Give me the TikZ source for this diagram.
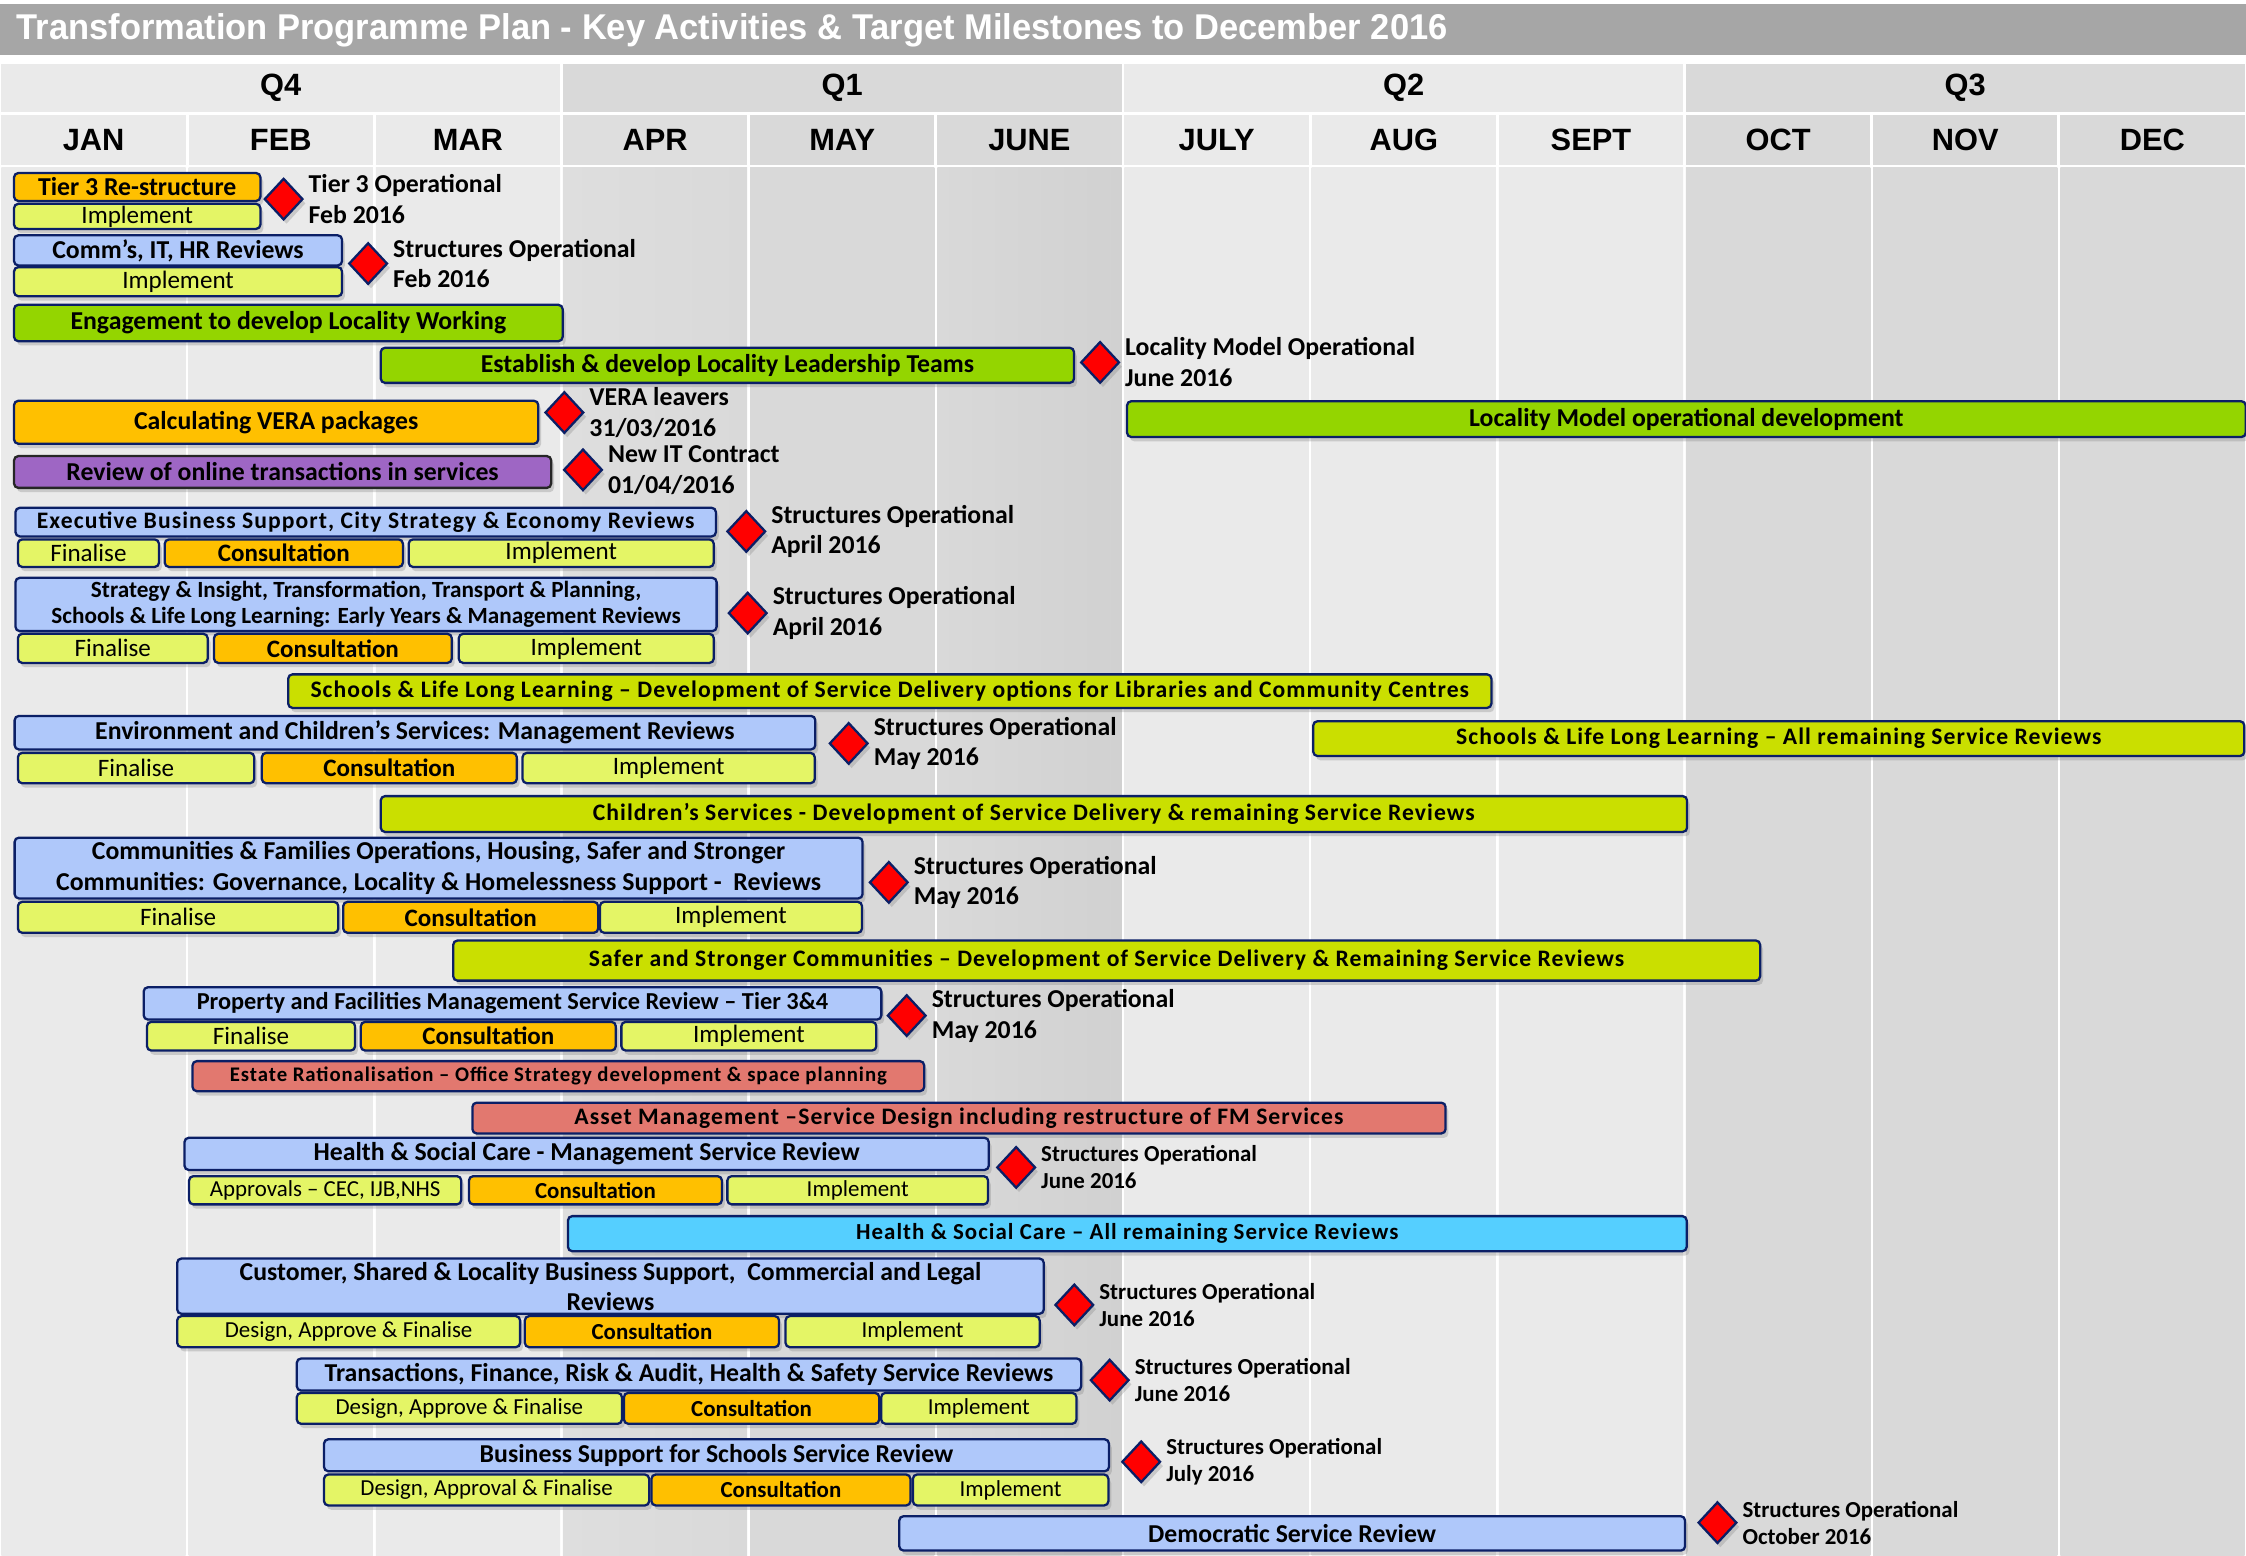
\documentclass[tikz,border=0pt]{standalone}
\usepackage{graphicx}
\usepackage{fontspec}
\setmainfont{Carlito}
\newfontfamily\headfont{Liberation Sans}
\usetikzlibrary{shapes.geometric,shadows,positioning}

\definecolor{navy}{HTML}{0B1F66}
\definecolor{barorange}{HTML}{FFC000}
\definecolor{barlime}{HTML}{E4F566}
\definecolor{barblue}{HTML}{AFC8FA}
\definecolor{bargreen}{HTML}{94D500}
\definecolor{barolive}{HTML}{CADF00}
\definecolor{barpurple}{HTML}{9E66C4}
\definecolor{barsalmon}{HTML}{E2786F}
\definecolor{barcyan}{HTML}{55CFFF}
\definecolor{qlight}{HTML}{EAEAEA}
\definecolor{qmid}{HTML}{DEDEDE}
\definecolor{qdark}{HTML}{D9D9D9}
\definecolor{qdarker}{HTML}{D1D1D1}
\definecolor{titlegrey}{HTML}{A6A6A6}

\begin{document}
\begin{tikzpicture}[x=1pt, y=-1pt]
    \tikzset{
        bar/.style = {rectangle, rounded corners=3pt, draw=navy, line width=1.6pt,
                      inner sep=0pt, anchor=north west, align=center,
                      drop shadow={shadow xshift=2pt, shadow yshift=-3pt, opacity=0.3}},
        fb/.style 2 args = {font=\bfseries\fontsize{#1}{#2}\selectfont},
        fr/.style 2 args = {font=\fontsize{#1}{#2}\selectfont},
        spaced/.style = {font=\bfseries\fontsize{#1}{19}\selectfont\addfontfeature{LetterSpace=4.5}},
        task/.style = {bar, fb={18}{21}},
        phase/.style = {bar, fill=barlime, fr={17.5}{21}},
        consult/.style = {bar, fill=barorange, fb={17.5}{21}},
        mstone/.style = {diamond, draw=navy, line width=1.6pt, fill=red, inner sep=0pt,
                         minimum width=27, minimum height=29,
                         drop shadow={shadow xshift=2pt, shadow yshift=-3pt, opacity=0.3}},
        mslabel/.style = {inner sep=0pt, align=left, fb={18}{21.5}},
        hdr/.style = {font=\headfont\bfseries\fontsize{21.5}{24}\selectfont}
    }
    \useasboundingbox (0,0) rectangle (1568,1086);

    % title band
    \fill[titlegrey] (0,3) rectangle (1568,38.5);
    \node[anchor=west, inner sep=0pt, text=white, font=\headfont\bfseries\fontsize{25}{28}\selectfont]
        (title) at (11.5,21) {\scalebox{0.963}[1]{Transformation Programme Plan - Key Activities \& Target Milestones to December 2016}};

    % quarters
    \foreach \q/\c [count=\i from 0] in {Q4/qlight, Q1/qdark, Q2/qlight, Q3/qdark} {
        \fill[\c] ({\i*392+1}, 44.5) rectangle ({(\i+1)*392-1}, 78);
        \node[hdr] (q\i) at ({(\i+0.5)*392}, 61) {\q};
    }

    % months and their columns
    \foreach \m/\ca/\cb [count=\i from 0] in {JAN/qlight/qlight, FEB/qlight/qlight, MAR/qlight/qlight,
                                              APR/qmid/qdark, MAY/qdark/qdark, JUNE/qdark/qdarker,
                                              JULY/qlight/qlight, AUG/qlight/qlight, SEPT/qlight/qlight,
                                              OCT/qdark/qdark, NOV/qdark/qdark, DEC/qdark/qdark} {
        \fill[\ca] ({\i*130.667+1}, 80) rectangle ({(\i+1)*130.667-1}, 115);
        \shade[left color=\ca, right color=\cb] ({\i*130.667+1}, 117) rectangle ({(\i+1)*130.667-1}, 1086);
        \node[hdr] (mon\i) at ({(\i+0.5)*130.667}, 97.5) {\m};
    }

    % tier 3
    \node[task, fill=barorange, minimum width=172, minimum height=19.5] (t3r) at (9,120) {Tier 3 Re-structure};
    \node[phase, minimum width=172, minimum height=17.5] (t3i) at (9,141.5) {Implement};
    \node[mstone] (m1) at (198,139) {};
    \node[mslabel, right=3pt of m1] (l1) {Tier 3 Operational\\Feb 2016};

    % comms, IT, HR
    \node[task, fill=barblue, minimum width=229, minimum height=21] (cir) at (9,163.5) {Comm’s, IT, HR Reviews};
    \node[phase, minimum width=229, minimum height=20.3] (cii) at (9,185.7) {Implement};
    \node[mstone] (m2) at (257,184) {};
    \node[mslabel, right=3pt of m2] (l2) {Structures Operational\\Feb 2016};

    % locality working
    \node[task, fill=bargreen, minimum width=383, minimum height=25.4] (eng) at (9,212) {Engagement to develop Locality Working};
    \node[task, fill=bargreen, minimum width=484, minimum height=24.5] (lead) at (265,242) {Establish \& develop Locality Leadership Teams};
    \node[mstone] (m3) at (768,253) {};
    \node[mslabel, right=3pt of m3] (l3) {Locality Model Operational\\June 2016};

    % VERA
    \node[task, fill=barorange, minimum width=366, minimum height=30] (vera) at (9,279) {Calculating VERA packages};
    \node[mstone] (m4) at (394,288) {};
    \node[mslabel, right=3pt of m4] (l4) {VERA leavers\\31/03/2016};
    \node[task, fill=bargreen, minimum width=781, minimum height=25] (lmod) at (786,279.3) {Locality Model operational development};

    % online transactions
    \node[task, fill=barpurple, draw=black!85, minimum width=375, minimum height=22.2] (online) at (9,317.6) {Review of online transactions in services};
    \node[mstone] (m5) at (407,328) {};
    \node[mslabel, right=3pt of m5] (l5) {New IT Contract\\01/04/2016};

    % executive business support
    \node[task, fill=barblue, spaced=16.5, minimum width=489, minimum height=20] (exec) at (10,353.7) {Executive Business Support, City Strategy \& Economy Reviews};
    \node[phase, minimum width=98.5, minimum height=19.2] (execf) at (11.7,375.8) {Finalise};
    \node[consult, minimum width=166.3, minimum height=19.2] (execc) at (114.2,375.8) {Consultation};
    \node[phase, minimum width=213, minimum height=19.2] (execi) at (284.5,375.8) {Implement};
    \node[mstone] (m6) at (521,371) {};
    \node[mslabel, right=3pt of m6] (l6) {Structures Operational\\April 2016};

    % strategy and insight
    \node[task, fill=barblue, fb={16.2}{18.6}, minimum width=489.5, minimum height=37.2] (strat) at (10,402.6)
        {Strategy \& Insight, Transformation, Transport \& Planning,\\Schools \& Life Long Learning: Early Years \& Management Reviews};
    \node[phase, minimum width=132.5, minimum height=20.3] (stratf) at (11.7,441.7) {Finalise};
    \node[consult, minimum width=166, minimum height=20.3] (stratc) at (148.6,441.7) {Consultation};
    \node[phase, minimum width=178, minimum height=20.3] (strati) at (319.5,441.7) {Implement};
    \node[mstone] (m7) at (522,428) {};
    \node[mslabel, right=3pt of m7] (l7) {Structures Operational\\April 2016};

    \node[task, fill=barolive, spaced=16.5, minimum width=840, minimum height=23.4] (libs) at (200.4,470)
        {Schools \& Life Long Learning – Development of Service Delivery options for Libraries and Community Centres};

    % environment and children
    \node[task, fill=barblue, minimum width=559, minimum height=23.4] (env) at (9.4,499) {Environment and Children’s Services: Management Reviews};
    \node[phase, minimum width=165, minimum height=21.2] (envf) at (11.7,524.8) {Finalise};
    \node[consult, minimum width=178, minimum height=21.2] (envc) at (182,524.8) {Consultation};
    \node[phase, minimum width=204, minimum height=21.2] (envi) at (364,524.8) {Implement};
    \node[mstone] (m8) at (592.5,519) {};
    \node[mslabel, right=3pt of m8] (l8) {Structures Operational\\May 2016};
    \node[task, fill=barolive, spaced=16.5, minimum width=650, minimum height=24.3] (sllr) at (916,502.7)
        {Schools \& Life Long Learning – All remaining Service Reviews};

    \node[task, fill=barolive, spaced=16.5, minimum width=912, minimum height=25] (child) at (265,555)
        {Children’s Services - Development of Service Delivery \& remaining Service Reviews};

    % communities and families
    \node[task, fill=barblue, fb={18}{21.5}, minimum width=592, minimum height=42.4] (comm) at (9.4,584)
        {Communities \& Families Operations, Housing, Safer and Stronger\\Communities: Governance, Locality \& Homelessness Support -~ Reviews};
    \node[phase, minimum width=223.7, minimum height=21.6] (commf) at (11.7,628.8) {Finalise};
    \node[consult, minimum width=178, minimum height=21.6] (commc) at (238.8,628.8) {Consultation};
    \node[phase, minimum width=183, minimum height=21.6] (commi) at (418,628.8) {Implement};
    \node[mstone] (m9) at (620.5,616) {};
    \node[mslabel, right=3pt of m9] (l9) {Structures Operational\\May 2016};

    \node[task, fill=barolive, spaced=16.5, minimum width=912.4, minimum height=28] (safer) at (315.6,655.8)
        {Safer and Stronger Communities – Development of Service Delivery \& Remaining Service Reviews};

    % property and facilities
    \node[task, fill=barblue, fb={17}{20}, minimum width=515, minimum height=22.6] (prop) at (99.5,688.4)
        {Property and Facilities Management Service Review – Tier 3\&4};
    \node[phase, minimum width=145.3, minimum height=20] (propf) at (101.8,712.6) {Finalise};
    \node[consult, minimum width=178, minimum height=20] (propc) at (251.1,712.6) {Consultation};
    \node[phase, minimum width=178, minimum height=20] (propi) at (433,712.6) {Implement};
    \node[mstone] (m10) at (633,709) {};
    \node[mslabel, right=3pt of m10] (l10) {Structures Operational\\May 2016};

    \node[task, fill=barsalmon, spaced=14.5, minimum width=510.8, minimum height=21] (estate) at (133.6,740)
        {Estate Rationalisation – Office Strategy development \& space planning};
    \node[task, fill=barsalmon, spaced=16.5, minimum width=679.4, minimum height=21.5] (asset) at (329,769)
        {Asset Management –Service Design including restructure of FM Services};

    % health and social care
    \node[task, fill=barblue, minimum width=561.5, minimum height=22.5] (hsc) at (128,793.5)
        {Health \& Social Care - Management Service Review};
    \node[phase, fr={16}{18}, minimum width=190, minimum height=19.7] (hsca) at (131.2,820.3) {Approvals – CEC, IJB,NHS};
    \node[consult, fb={16}{18}, minimum width=176.6, minimum height=19.7] (hscc) at (326.6,820.3) {Consultation};
    \node[phase, fr={16}{18}, minimum width=182, minimum height=19.7] (hsci) at (507,820.3) {Implement};
    \node[mstone] (m11) at (709.4,815) {};
    \node[mslabel, fb={16}{19}, right=3pt of m11] (l11) {Structures Operational\\June 2016};

    \node[task, fill=barcyan, spaced=16, minimum width=781, minimum height=24.5] (hscr) at (395.7,848.2)
        {Health \& Social Care – All remaining Service Reviews};

    % customer, shared and locality
    \node[task, fill=barblue, fb={18}{21}, minimum width=605, minimum height=38.6] (cust) at (122.9,877.8)
        {Customer, Shared \& Locality Business Support,~ Commercial and Legal\\Reviews};
    \node[phase, fr={16}{19}, minimum width=239.4, minimum height=21.7] (custd) at (122.9,918) {Design, Approve \& Finalise};
    \node[consult, fb={16}{19}, minimum width=177.5, minimum height=21.7] (custc) at (365.6,918) {Consultation};
    \node[phase, fr={16}{19}, minimum width=177.4, minimum height=21.7] (custi) at (547.6,918) {Implement};
    \node[mstone] (m12) at (750,911) {};
    \node[mslabel, fb={16}{19}, right=3pt of m12] (l12) {Structures Operational\\June 2016};

    % transactions and finance
    \node[task, fill=barblue, minimum width=547.6, minimum height=22.4] (trans) at (206.4,947.6)
        {Transactions, Finance, Risk \& Audit, Health \& Safety Service Reviews};
    \node[phase, fr={16}{19}, minimum width=227, minimum height=21.6] (transd) at (206.4,971.6) {Design, Approve \& Finalise};
    \node[consult, fb={16}{19}, minimum width=178.2, minimum height=21.6] (transc) at (434.8,971.6) {Consultation};
    \node[phase, fr={16}{19}, minimum width=136.3, minimum height=21.6] (transi) at (614.4,971.6) {Implement};
    \node[mstone] (m13) at (774.7,963.5) {};
    \node[mslabel, fb={16}{19}, right=3pt of m13] (l13) {Structures Operational\\June 2016};

    % business support for schools
    \node[task, fill=barblue, minimum width=548, minimum height=22.3] (bss) at (225.4,1004)
        {Business Support for Schools Service Review};
    \node[phase, fr={16}{19}, minimum width=227, minimum height=21.6] (bssd) at (225.4,1028.6) {Design, Approval \& Finalise};
    \node[consult, fb={16}{19}, minimum width=180.8, minimum height=21.6] (bssc) at (454,1028.6) {Consultation};
    \node[phase, fr={16}{19}, minimum width=136.5, minimum height=21.6] (bssi) at (636.5,1028.6) {Implement};
    \node[mstone] (m14) at (796.7,1020.5) {};
    \node[mslabel, fb={16}{19}, right=3pt of m14] (l14) {Structures Operational\\July 2016};

    % democratic services
    \node[task, fill=barblue, minimum width=548.6, minimum height=24] (dem) at (627,1057.7) {Democratic Service Review};
    \node[mstone] (m15) at (1199,1063) {};
    \node[mslabel, fb={16}{19}, right=3pt of m15] (l15) {Structures Operational\\October 2016};

\end{tikzpicture}
\end{document}
